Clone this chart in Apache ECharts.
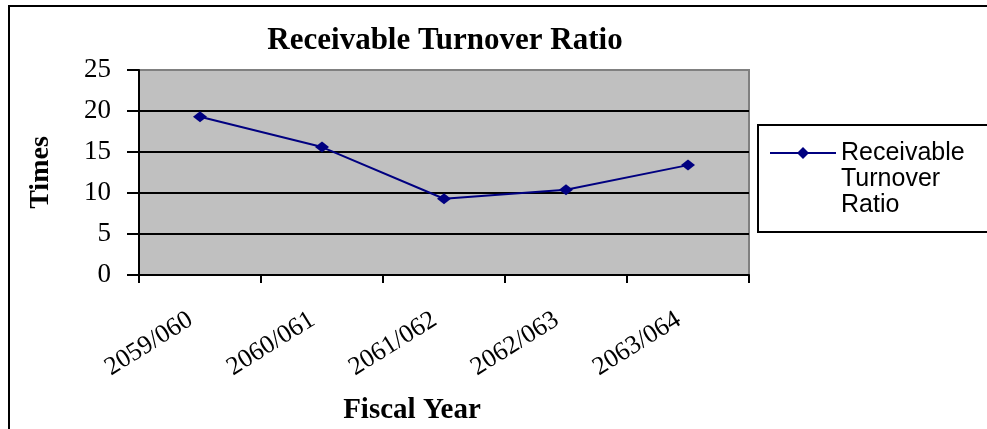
<!DOCTYPE html>
<html>

<head>
    <meta charset="utf-8" />
    <title>Receivable Turnover Ratio</title>
    <style>
        html, body {
            margin: 0;
            padding: 0;
            background: #fff;
        }

        #main {
            width: 987px;
            height: 429px;
        }
    </style>
</head>

<body>
    <div id="main"></div>
</body>
<script src="https://cdn.jsdelivr.net/npm/echarts@6/dist/echarts.min.js"></script>
<script type="text/javascript">
    // data
    var seriesName = 'Receivable Turnover Ratio';
    var fiscalYears = ['2059/060', '2060/061', '2061/062', '2062/063', '2063/064'];
    var turnoverRatio = [19.3, 15.6, 9.3, 10.4, 13.4];
    var yMin = 0;
    var yMax = 25;
    var yStep = 5;

    var serif = 'Liberation Serif';
    var sans = 'Liberation Sans';

    var chartDom = document.getElementById('main');
    var myChart = echarts.init(chartDom);
    var option;

    option = {
        backgroundColor: '#fff',
        animation: false,
        title: {
            text: seriesName,
            left: 445,
            top: 25,
            padding: 0,
            textAlign: 'center',
            textStyle: {
                fontFamily: serif,
                fontWeight: 'bold',
                fontSize: 31,
                color: '#000'
            }
        },
        // outer chart frame + legend frame
        graphic: [
            {
                type: 'rect',
                silent: true,
                z: 100,
                shape: { x: 9, y: 6, width: 1000, height: 500 },
                style: { fill: 'none', stroke: '#000', lineWidth: 2 }
            },
            {
                type: 'rect',
                silent: true,
                z: 100,
                shape: { x: 758, y: 125, width: 300, height: 107 },
                style: { fill: 'none', stroke: '#000', lineWidth: 2 }
            }
        ],
        legend: {
            data: [seriesName],
            left: 769,
            top: 88,
            padding: 0,
            itemWidth: 66,
            itemHeight: 15,
            selectedMode: false,
            formatter: function (name) {
                // two blank lines on top so the first word sits level with the icon
                return '\n\n' + name.split(' ').join('\n');
            },
            textStyle: {
                fontFamily: sans,
                fontSize: 25,
                lineHeight: 26,
                color: '#000'
            }
        },
        grid: {
            left: 139,
            right: 238,
            top: 70,
            bottom: 154,
            show: true,
            backgroundColor: '#C0C0C0',
            borderColor: '#808080',
            borderWidth: 2,
            containLabel: false,
            outerBoundsMode: 'none'
        },
        xAxis: {
            type: 'category',
            data: fiscalYears,
            boundaryGap: true,
            name: 'Fiscal Year',
            nameLocation: 'middle',
            nameGap: 121,
            nameTextStyle: {
                fontFamily: serif,
                fontWeight: 'bold',
                fontSize: 29,
                color: '#000',
                padding: [0, 64, 0, 0]
            },
            axisLine: {
                lineStyle: { color: '#000', width: 2 }
            },
            axisTick: {
                show: true,
                length: 8,
                lineStyle: { color: '#000', width: 2 }
            },
            axisLabel: {
                interval: 0,
                rotate: 32,
                margin: 37,
                padding: [0, 11, 0, 0],
                fontFamily: serif,
                fontSize: 26,
                color: '#000'
            },
            splitLine: { show: false }
        },
        yAxis: {
            type: 'value',
            min: yMin,
            max: yMax,
            interval: yStep,
            name: 'Times',
            nameLocation: 'middle',
            nameGap: 84,
            nameTextStyle: {
                fontFamily: serif,
                fontWeight: 'bold',
                fontSize: 28,
                color: '#000'
            },
            axisLine: {
                show: true,
                lineStyle: { color: '#000', width: 2 }
            },
            axisTick: {
                show: true,
                length: 12,
                lineStyle: { color: '#000', width: 2 }
            },
            axisLabel: {
                margin: 28,
                fontFamily: serif,
                fontSize: 27,
                color: '#000'
            },
            splitLine: {
                show: true,
                showMaxLine: false,
                lineStyle: { color: '#000', width: 2 }
            }
        },
        series: [
            {
                name: seriesName,
                type: 'line',
                data: turnoverRatio,
                symbol: 'diamond',
                symbolSize: [14, 11],
                color: '#000080',
                lineStyle: { color: '#000080', width: 2 },
                itemStyle: { color: '#000080' }
            }
        ]
    };

    option && myChart.setOption(option);
</script>

</html>
